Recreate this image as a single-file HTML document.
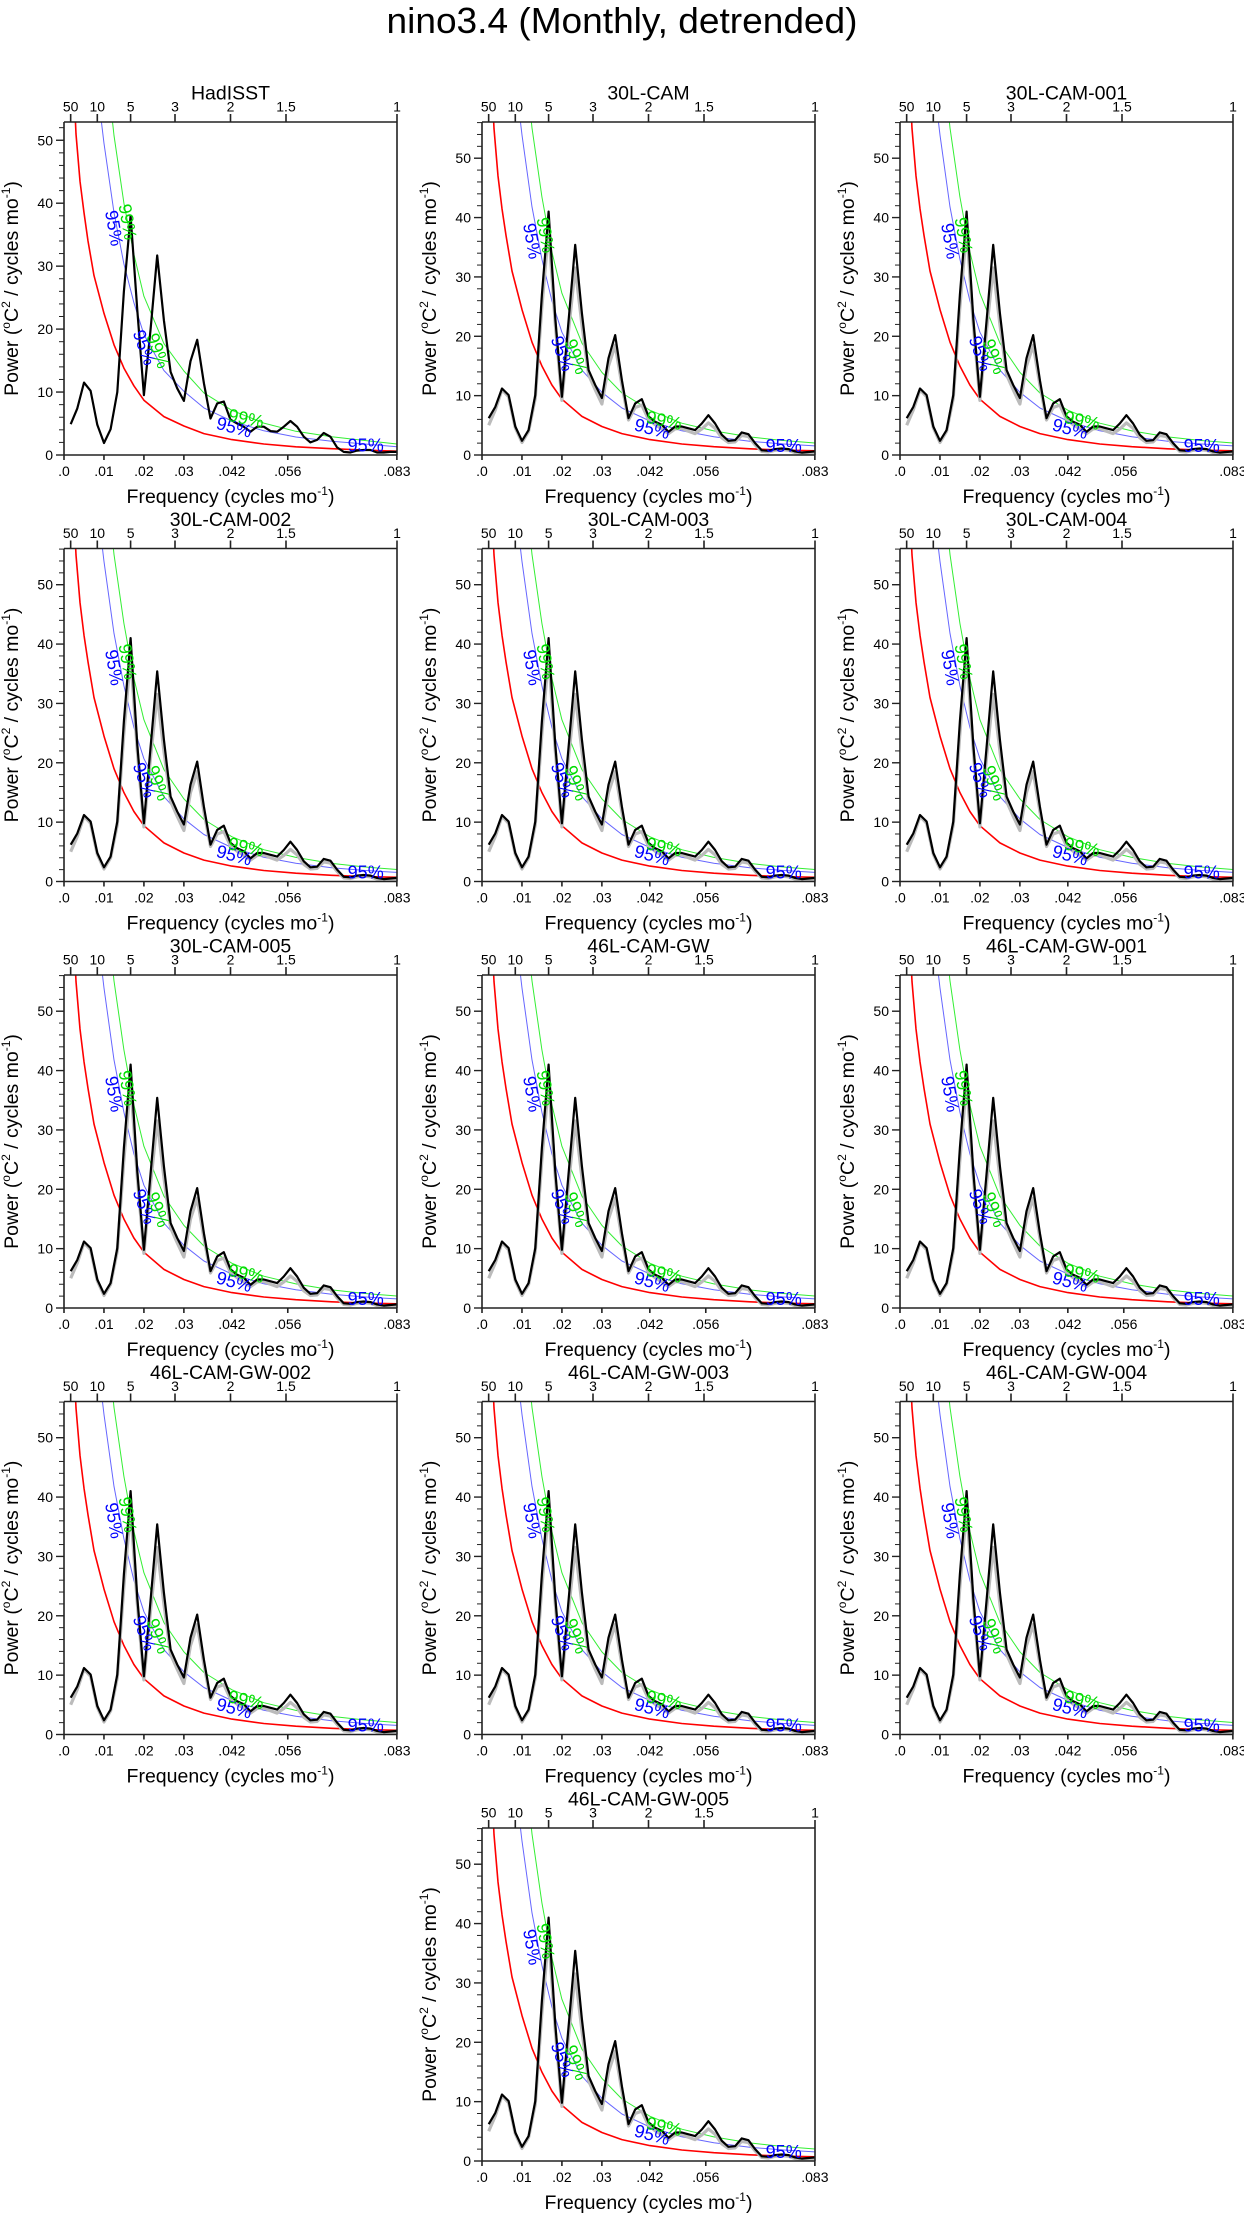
<!DOCTYPE html>
<html><head><meta charset="utf-8"><style>
html,body{margin:0;padding:0;background:#fff;}
svg{display:block;font-family:"Liberation Sans",sans-serif;}
</style></head><body>
<svg id="fig" width="1244" height="2214" viewBox="0 0 1244 2214" xmlns="http://www.w3.org/2000/svg">
<text x="622" y="33" text-anchor="middle" font-size="36" textLength="471" lengthAdjust="spacingAndGlyphs">nino3.4 (Monthly, detrended)</text>
</svg>
<script>
const panelNames = ["HadISST","30L-CAM","30L-CAM-001","30L-CAM-002","30L-CAM-003","30L-CAM-004","30L-CAM-005","46L-CAM-GW","46L-CAM-GW-001","46L-CAM-GW-002","46L-CAM-GW-003","46L-CAM-GW-004","46L-CAM-GW-005"];
const harmonics = Array.from({length:50},(_,i)=>i+1);
const obsPower = [4.9,7.4,11.5,10.2,4.8,1.9,4.1,10,26,38,23,9.5,20,31.7,21.4,13.2,10.6,8.6,14.9,18.3,11.4,5.8,8.2,8.5,5.6,5,4.5,3.7,4.5,4.5,3.8,3.7,4.5,5.4,4.5,2.9,2,2.4,3.5,2.9,1.2,0.5,0.4,0.7,0.8,0.8,0.4,0.4,0.5,0.5];
const modelPower = [6.2,8.1,11.2,10.1,4.8,2.4,4.2,10.1,27,41,23,9.8,22.7,35.4,23.9,14.3,11.8,9.6,16.3,20.2,12.6,6.2,8.7,9.4,6.5,5.6,5.1,3.9,4.8,4.8,4.5,4.2,5.3,6.7,5.3,3.4,2.4,2.5,3.8,3.5,2,0.8,0.7,1,1.1,1,0.6,0.4,0.5,0.6];
const memberPower = [5,7.6,11,9.8,4.6,2.1,4,9.6,25,38,22,9.2,21,31.5,22,13.5,11,8.6,15,18.5,11.8,5.9,8,8.4,6,5.1,4.4,3.6,4.4,4.5,4,3.6,4.4,5.4,4.5,2.9,2.1,2.2,3.3,3.1,1.7,0.6,0.5,0.8,0.9,0.8,0.4,0.3,0.3,0.4];
const curveFreq = [0.002,0.0025,0.003,0.004,0.005,0.006,0.0075,0.01,0.0125,0.015,0.0175,0.02,0.025,0.03,0.035,0.042,0.05,0.058,0.067,0.075,0.0833];
const redNoise = [75,62,55,47,41.5,37,31,24.5,19,15,11.8,9.4,6.5,4.8,3.6,2.6,1.85,1.4,1.05,0.85,0.7];
const redNoiseObs = [70,58,51,43.5,38.5,34,28.5,22.5,17.5,13.8,11,8.7,6.1,4.6,3.4,2.45,1.75,1.3,1.0,0.8,0.6];
const sig95 = 2.2, sig99 = 2.9;
const xTickVals = [0,0.01,0.02,0.03,0.042,0.056,0.0833];
const xTickLabels = [".0",".01",".02",".03",".042",".056",".083"];
const periodTicks = [50,10,5,3,2,1.5,1];
const yTickVals = [0,10,20,30,40,50];

const NS = "http://www.w3.org/2000/svg";
const svg = document.getElementById("fig");
function mk(tag, attrs, parent){const e=document.createElementNS(NS,tag);for(const k in attrs)e.setAttribute(k,attrs[k]);(parent||svg).appendChild(e);return e;}
const colL=[64,482,900], W=333, H=333, rowT=122, rowP=426.5;
const FMAX = 1/12;

panelNames.forEach((name,i)=>{
  const isObs = i===0;
  let r,c;
  if(i<12){r=Math.floor(i/3);c=i%3;}else{r=4;c=1;}
  const L=colL[c], T=rowT+r*rowP, B=T+H, R=L+W;
  const ymax = isObs?52.9:56.1;
  const xs = f=>L+f/FMAX*W;
  const ys = v=>B-v/ymax*H;
  const g = mk("g",{});
  
  
  const cid="clip"+i;
  const cp=mk("clipPath",{id:cid},g); mk("rect",{x:L,y:T,width:W,height:H},cp);
  const t=mk("text",{x:(L+R)/2,y:T-22.5,"text-anchor":"middle","font-size":"19.5"},g); t.textContent=name;
  
  
  // plot elements
  const pg=mk("g",{"clip-path":"url(#"+cid+")"},g);
  function curve(vals,factor,color,w,nm){
    const pts=curveFreq.map((f,j)=>xs(f).toFixed(1)+","+ys(vals[j]*factor).toFixed(1)).join(" ");
    const p=mk("polyline",{points:pts,fill:"none",stroke:color,"stroke-width":w,"stroke-linejoin":"round"},pg);
    
    
  }
  const red = isObs?redNoiseObs:redNoise;
  curve(red,1,"#ff0000",1.6,"red-noise-curve");
  curve(red,sig95,"#6666ff",1,"sig95-curve");
  curve(red,sig99,"#33ee33",1,"sig99-curve");
  function series(vals,color,w,nm){
    const pts=harmonics.map((k,j)=>xs(k/600).toFixed(1)+","+ys(vals[j]).toFixed(1)).join(" ");
    const p=mk("polyline",{points:pts,fill:"none",stroke:color,"stroke-width":w,"stroke-linejoin":"round"},pg);
    
    
  }
  if(isObs){series(obsPower,"#000",2.2,"spectrum-line");}
  else{series(memberPower,"#bbbbbb",3.2,"member-spectrum-line");series(modelPower,"#000",2.2,"ensemble-spectrum-line");}
  // significance labels
  const labs=[[0.0122,36,"95%","#0000ff",80],[0.0156,37,"99%","#00dd00",80],[0.0198,17,"95%","#0000ff",70],[0.0232,16.5,"99%","#00dd00",70],[0.0425,4.2,"95%","#0000ff",15],[0.0455,5.6,"99%","#00dd00",12],[0.0755,1.3,"95%","#0000ff",0]];
  labs.forEach(a=>{const x=xs(a[0]),y=ys(a[1]);
    const tl=mk("text",{x:x,y:y,"text-anchor":"middle","font-size":"18",fill:a[3],transform:"rotate("+a[4]+" "+x+" "+y+")","dominant-baseline":"middle"},g);tl.textContent=a[2];
    
    });
  // axes
  const ax=mk("g",{stroke:"#222","stroke-width":1.6,fill:"none"},g);
  mk("line",{x1:L,y1:T,x2:L,y2:B},ax);mk("line",{x1:L,y1:B,x2:R,y2:B},ax);
  mk("line",{x1:L,y1:T,x2:R,y2:T},ax);mk("line",{x1:R,y1:T,x2:R,y2:B},ax);
  for(let v=0;v<=ymax;v+=2){const y=ys(v);const maj=v%10===0;mk("line",{x1:L-(maj?8:5),y1:y,x2:L,y2:y,"stroke-width":maj?1.4:1},ax);}
  yTickVals.forEach(v=>{const tt=mk("text",{x:L-11,y:ys(v)+5,"text-anchor":"end","font-size":"14"},g);tt.textContent=v;
    
    });
  xTickVals.forEach((f,j)=>{const x=xs(f);mk("line",{x1:x,y1:B,x2:x,y2:B+5},ax);
    const tt=mk("text",{x:x,y:B+21,"text-anchor":"middle","font-size":"14"},g);tt.textContent=xTickLabels[j];
    
    });
  periodTicks.forEach(p=>{const x=xs(1/(12*p));mk("line",{x1:x,y1:T,x2:x,y2:T-8},ax);
    const tt=mk("text",{x:x,y:T-10.5,"text-anchor":"middle","font-size":"14"},g);tt.textContent=p;
    
    });
  const xt=mk("text",{x:(L+R)/2,y:B+48,"text-anchor":"middle","font-size":"19.5"},g);
  xt.innerHTML='Frequency (cycles mo<tspan font-size="12" dy="-8">-1</tspan><tspan dy="8">)</tspan>';
  
  
  const yc=(T+B)/2, yx=L-46;
  const yt=mk("text",{x:yx,y:yc,"text-anchor":"middle","font-size":"19.5",transform:"rotate(-90 "+yx+" "+yc+")"},g);
  yt.innerHTML='Power (<tspan font-size="12" dy="-8">o</tspan><tspan dy="8">C</tspan><tspan font-size="12" dy="-8">2</tspan><tspan dy="8"> / cycles mo</tspan><tspan font-size="12" dy="-8">-1</tspan><tspan dy="8">)</tspan>';
  
  
});
</script>
</body></html>
